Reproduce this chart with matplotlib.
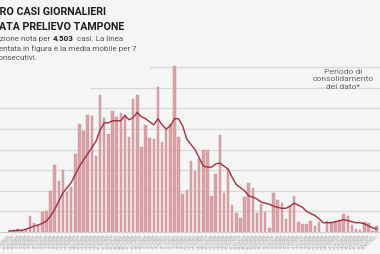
import matplotlib
matplotlib.use("Agg")
import matplotlib.pyplot as plt
from matplotlib.patches import Rectangle
import numpy as np
import pandas as pd

plt.rcParams['font.family'] = ['Roboto', 'DejaVu Sans']

# casi giornalieri per data prelievo tampone
cases = [1, 2, 3, 2, 3, 16, 9, 7, 19, 20,
         40, 65, 50, 60, 39, 44, 76, 105, 98, 114,
         113, 74, 133, 111, 95, 117, 112, 116, 114, 92,
         129, 133, 83, 104, 91, 90, 141, 87, 100, 105,
         161, 92, 37, 41, 69, 59, 71, 80, 80, 35,
         56, 94, 38, 61, 26, 18, 14, 34, 48, 43,
         18, 27, 19, 4, 38, 31, 28, 13, 25, 35,
         10, 8, 8, 11, 6, 10, 0, 11, 10, 10,
         12, 17, 16, 7, 3, 2, 10, 9, 1, 6]

# media mobile 7 giorni
media_mobile = [1, 1.2, 1.6, 1.6, 2.6, 4.2, 5.8, 6.8, 8.4, 10.6,
                15.6, 22, 30, 38, 43, 48, 56, 64, 70, 76,
                82, 88, 99, 106, 106, 108, 108, 108, 113, 109,
                111, 116, 112, 110, 107, 104, 110, 104, 100, 103,
                110, 110, 103, 90, 85, 80, 72, 64, 63, 63,
                66, 67, 64, 61, 53, 46, 43, 40, 35, 34,
                32, 29, 28, 27, 25, 24, 23, 23, 25, 28,
                26, 24, 20, 18, 16, 13, 9, 9, 9, 10,
                11, 12, 11, 10, 9, 9, 8, 6, 4, 3]

dates = list(pd.date_range('2020-10-05', periods=len(cases)).strftime('%d/%m/%Y'))
grid_vals = [20, 40, 60, 80, 100, 120, 140, 160]

BG = '#f5f5f5'
W, H = 380, 255

fig = plt.figure(figsize=(3.8, 2.55), dpi=100, facecolor=BG)
ax = fig.add_axes([0, 22 / H, 1, 233 / H])
ax.set_facecolor(BG)

x = np.arange(len(cases))
ax.bar(x, cases, width=0.6, color='#d9a2a7', edgecolor='#cc8e95', linewidth=0.3, zorder=2)
ax.plot(x, media_mobile, color='#a3303e', lw=1.0, zorder=3)

ax.set_xlim(-2.25, 89.8)
ax.set_ylim(0, 233 / 20.6 * 20)
ax.set_yticks(grid_vals)
ax.yaxis.grid(True, color='#d8d8d8', lw=0.9, zorder=0)
ax.tick_params(axis='y', left=False, labelleft=False)
ax.set_xticks(x)
ax.set_xticklabels(dates, rotation=40, ha='right', rotation_mode='anchor',
                   fontsize=2.9, color='#959595')
ax.tick_params(axis='x', length=0, pad=1)
for s in ['top', 'left', 'right']:
    ax.spines[s].set_visible(False)
ax.spines['bottom'].set_color('#cfcfcf')
ax.spines['bottom'].set_linewidth(0.8)

# riquadri dietro al testo
fig.add_artist(Rectangle((0, 1 - 78 / H), 150 / W, 78 / H, transform=fig.transFigure,
                         facecolor=BG, edgecolor='none', zorder=1))
fig.add_artist(Rectangle((0, 1 - 93 / H), 90 / W, 93 / H, transform=fig.transFigure,
                         facecolor=BG, edgecolor='none', zorder=1))

fig.canvas.draw()
r = fig.canvas.get_renderer()


def width_px(s, **kw):
    t = fig.text(0, 0, s, **kw)
    w = t.get_window_extent(r).width
    t.remove()
    return w


tkw = dict(fontsize=7.7, fontweight='bold', color='#1e1e1e')
tx = -width_px('NUME', **tkw) / W
fig.text(tx, 1 - 15 / H, 'NUMERO CASI GIORNALIERI', va='baseline', zorder=2, **tkw)
fig.text(tx, 1 - 30 / H, 'PER DATA PRELIEVO TAMPONE', va='baseline', zorder=2, **tkw)

skw = dict(fontsize=5.8, color='#555555')
bkw = dict(fontsize=5.8, fontweight='bold', color='#1e1e1e')
sx = -width_px('Informa', **skw) / W
p1 = 'Informazione nota per '
p2 = '4.503'
x2 = sx + width_px(p1 + '.', **skw) / W - width_px('.', **skw) / W
x3 = x2 + width_px(p2, **bkw) / W
fig.text(sx, 1 - 41 / H, p1, va='baseline', zorder=2, **skw)
fig.text(x2, 1 - 41 / H, p2, va='baseline', zorder=2, **bkw)
fig.text(x3, 1 - 41 / H, '  casi. La linea', va='baseline', zorder=2, **skw)
fig.text(sx, 1 - 51 / H, 'rappresentata in figura è la media mobile per 7',
         va='baseline', zorder=2, **skw)
fig.text(sx, 1 - 60 / H, 'giorni consecutivi.', va='baseline', zorder=2, **skw)

fig.text(343 / W, 1 - 69 / H, 'Periodo di\nconsolidamento\ndel dato*', ha='center',
         va='top', fontsize=6.1, color='#666666', linespacing=1.28, zorder=2)

fig.savefig('out.png', dpi=100, facecolor=BG)
